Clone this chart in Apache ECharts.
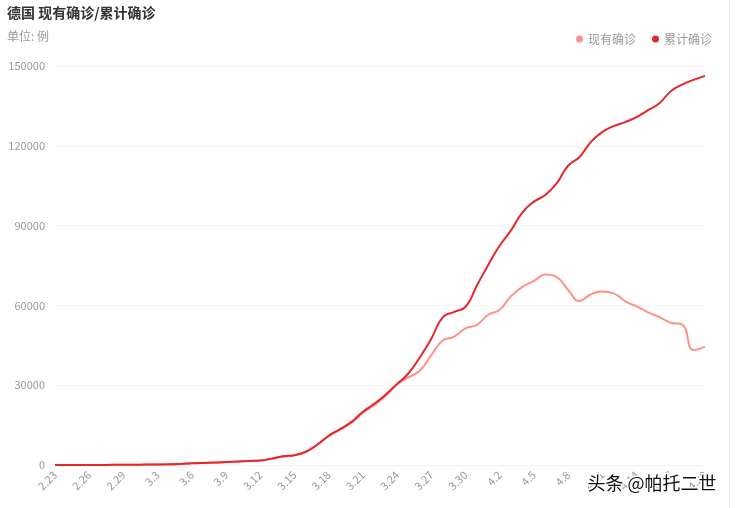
<!DOCTYPE html>
<html>
<head>
<meta charset="utf-8">
<script src="https://cdn.jsdelivr.net/npm/echarts@6/dist/echarts.min.js"></script>
<style>html,body{margin:0;padding:0;background:#fff}#c{width:736px;height:508px}</style>
</head>
<body>
<div id="c"></div>
<script>
var categories = ['2.23','2.24','2.25','2.26','2.27','2.28','2.29','3.1','3.2','3.3','3.4','3.5','3.6','3.7','3.8','3.9','3.10','3.11','3.12','3.13','3.14','3.15','3.16','3.17','3.18','3.19','3.20','3.21','3.22','3.23','3.24','3.25','3.26','3.27','3.28','3.29','3.30','3.31','4.1','4.2','4.3','4.4','4.5','4.6','4.7','4.8','4.9','4.10','4.11','4.12','4.13','4.14','4.15','4.16','4.17','4.18','4.19','4.20'];
var cumulative = [16,16,18,21,26,53,66,117,150,188,240,400,639,795,902,1100,1300,1500,1700,2400,3300,3700,5000,7700,11000,13500,16200,20000,23000,26500,30500,34500,40500,47500,55500,57600,59500,67500,75300,82500,88300,95000,99000,101500,106000,112500,115800,121500,125200,127400,128900,130800,133400,136000,140500,143000,144800,146300];
var current = [14,14,16,19,24,50,62,110,142,178,228,385,620,770,875,1070,1265,1460,1655,2340,3230,3620,4900,7550,10800,13250,15900,19600,22550,26000,30300,33000,35500,41300,46800,48300,51400,52700,56500,58400,63500,67000,69200,71600,70600,65800,61700,64200,65200,64500,61600,59600,57400,55600,53500,52800,43200,44500];
var yTicks = [0,30000,60000,90000,120000,150000];

var chart = echarts.init(document.getElementById('c'));
var font = '"Noto Sans CJK SC", "Noto Sans", sans-serif';
chart.setOption({
  backgroundColor: '#fff',
  textStyle: {fontFamily: font},
  title: {
    text: '德国 现有确诊/累计确诊',
    subtext: '单位: 例',
    left: 2, top: 1,
    itemGap: 10,
    textStyle: {fontSize: 14, fontWeight: 'bold', color: '#333', fontFamily: font},
    subtextStyle: {fontSize: 12, color: '#999', fontFamily: font}
  },
  legend: {
    right: 19, top: 28,
    icon: 'circle', itemWidth: 7, itemHeight: 7, itemGap: 16,
    textStyle: {color: '#999', fontSize: 12, fontFamily: font},
    data: ['现有确诊', '累计确诊']
  },
  grid: {left: 55, right: 31, top: 66, bottom: 43, containLabel: false},
  xAxis: {
    type: 'category',
    boundaryGap: false,
    data: categories,
    axisLine: {show: true, lineStyle: {color: '#f3f3f3'}},
    axisTick: {show: false},
    axisLabel: {interval: 2, rotate: 45, color: '#999', fontSize: 11, margin: 8, fontFamily: font}
  },
  yAxis: {
    type: 'value',
    min: yTicks[0], max: yTicks[yTicks.length - 1], interval: 30000,
    axisLine: {show: false},
    axisTick: {show: false},
    axisLabel: {color: '#999', fontSize: 11, margin: 10, fontFamily: font, formatter: function (v) { return String(v); }},
    splitLine: {lineStyle: {color: '#f5f5f5'}}
  },
  series: [
    {
      name: '现有确诊', type: 'line', data: current, smooth: true,
      showSymbol: false, symbol: 'circle',
      itemStyle: {color: '#ff9287'},
      lineStyle: {width: 2, color: '#ff9287'}
    },
    {
      name: '累计确诊', type: 'line', data: cumulative, smooth: true,
      showSymbol: false, symbol: 'circle',
      itemStyle: {color: '#e5262c'},
      lineStyle: {width: 2, color: '#e5262c'}
    }
  ],
  graphic: [
    {type: 'rect', shape: {x: 729, y: 0, width: 1, height: 508}, style: {fill: '#eeeeee'}, silent: true},
    {type: 'text', left: 586, top: 473, z: 100,
     style: {text: '头条 @帕托二世', fontSize: 18, fill: '#111', stroke: '#fff', lineWidth: 3, fontFamily: font}}
  ]
});
</script>
</body>
</html>
